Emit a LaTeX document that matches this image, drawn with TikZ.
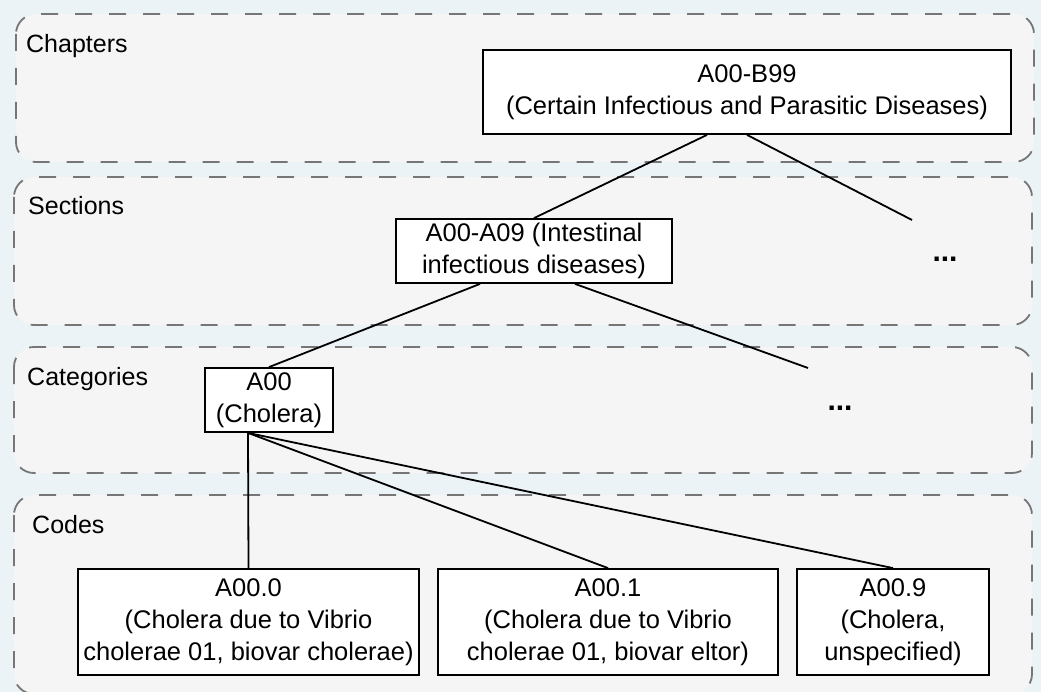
\documentclass[tikz,border=0pt]{standalone}
\usepackage{fontspec}
\setmainfont{Liberation Sans}
\definecolor{pagebg}{RGB}{235,243,247}
\definecolor{lanefill}{RGB}{245,245,245}
\definecolor{lanedash}{RGB}{118,118,118}
\begin{document}
\begin{tikzpicture}[x=1pt,y=-1pt,
  lane/.style={draw=lanedash, fill=lanefill, line width=1.8pt,
    dash pattern=on 17pt off 17pt, rounded corners=20pt},
  box/.style={draw=black, fill=white, line width=1.8pt, inner sep=0pt,
    align=center, font=\fontsize{25.5}{32}\selectfont},
  lanelabel/.style={anchor=base west, inner sep=0pt,
    font=\fontsize{25}{32}\selectfont},
  more/.style={anchor=base, inner sep=0pt,
    font=\fontsize{30}{32}\selectfont\bfseries},
  link/.style={draw=black, line width=1.8pt}]

% page
\fill[pagebg] (0,0) rectangle (1041,692);
\useasboundingbox (0,0) rectangle (1041,692);

% hierarchy levels
\path[lane] (16,14) rectangle (1034,162);
\path[lane] (14,177) rectangle (1032,325);
\path[lane] (14,347) rectangle (1032,473);
\path[lane] (14,495) rectangle (1032,694);

\node[lanelabel] (lch) at (26,53) {Chapters};
\node[lanelabel] (lsec) at (28,215) {Sections};
\node[lanelabel] (lcat) at (27,385) {Categories};
\node[lanelabel] (lcode) at (32,533) {Codes};

% classification nodes
\node[box, minimum width=528pt, minimum height=84pt] (ch) at (747,92)
  {A00-B99\\(Certain Infectious and Parasitic Diseases)};
\node[box, minimum width=276pt, minimum height=64pt] (sec) at (534,251)
  {A00-A09 (Intestinal\\infectious diseases)};
\node[box, minimum width=128pt, minimum height=64pt] (cat) at (269,400)
  {A00\\(Cholera)};
\node[box, minimum width=341pt, minimum height=106pt] (c0) at (248.5,622)
  {A00.0\\(Cholera due to Vibrio\\cholerae 01, biovar cholerae)};
\node[box, minimum width=340pt, minimum height=106pt] (c1) at (608,622)
  {A00.1\\(Cholera due to Vibrio\\cholerae 01, biovar eltor)};
\node[box, minimum width=192pt, minimum height=106pt] (c9) at (893,622)
  {A00.9\\(Cholera,\\unspecified)};

\node[more] (secdots) at (945,262) {...};
\node[more] (catdots) at (840,410) {...};

% links
\coordinate (chmore) at (912,220);
\coordinate (secmore) at (808,368);
\draw[link] ([xshift=-40pt]ch.south) -- (sec.north);
\draw[link] (ch.south) -- (chmore);
\draw[link] ([xshift=-54pt]sec.south) -- (cat.north);
\draw[link] ([xshift=41pt]sec.south) -- (secmore);
\draw[link] ([xshift=-21pt]cat.south) -- (c0.north);
\draw[link] ([xshift=-21pt]cat.south) -- (c1.north);
\draw[link] ([xshift=-21pt]cat.south) -- (c9.north);
\end{tikzpicture}
\end{document}
